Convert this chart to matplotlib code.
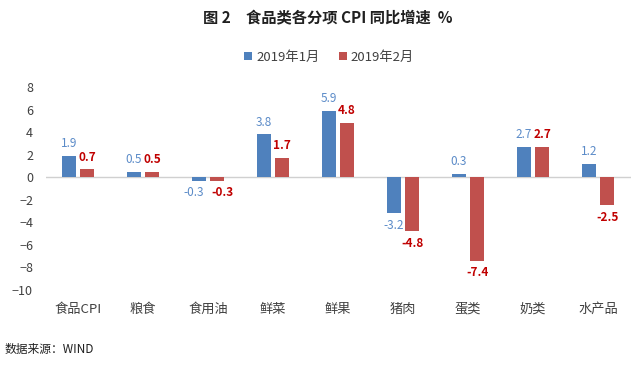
import matplotlib.pyplot as plt
import numpy as np

plt.rcParams['font.family'] = ['Noto Sans CJK SC', 'DejaVu Sans']

categories = ["食品CPI", "粮食", "食用油", "鲜菜", "鲜果", "猪肉", "蛋类", "奶类", "水产品"]
jan = [1.9, 0.5, -0.3, 3.8, 5.9, -3.2, 0.3, 2.7, 1.2]
feb = [0.7, 0.5, -0.3, 1.7, 4.8, -4.8, -7.4, 2.7, -2.5]
series_names = ["2019年1月", "2019年2月"]

blue = "#4F81BD"
red = "#C0504D"

fig = plt.figure(figsize=(6.33, 3.65), dpi=100)
ax = fig.add_axes([45.5 / 633, 1 - 290 / 365, 585 / 633, 203 / 365])

x = np.arange(len(categories))
w = 0.22
off = 0.14
ax.bar(x - off, jan, w, color=blue, label=series_names[0])
ax.bar(x + off, feb, w, color=red, label=series_names[1])

for xi, v1, v2 in zip(x, jan, feb):
    # push labels apart when both sit on the same side at the same height
    nudge = 0.08 if (v1 < 0 and v2 < 0 and abs(v1 - v2) < 1) else 0
    for v, sgn, col, fw in [(v1, -1, "#5B8BC8", "normal"), (v2, 1, "#C00000", "bold")]:
        va = "bottom" if v >= 0 else "top"
        dy = 0.5 if v >= 0 else -0.5
        ax.text(xi + sgn * (off + nudge), v + dy, f"{v:.1f}", ha="center", va=va,
                color=col, fontsize=8.5, fontweight=fw)

ax.set_xlim(-0.5, len(categories) - 0.5)
ax.set_ylim(-10, 8)
ax.set_yticks(range(-10, 9, 2))
ax.axhline(0, color="#D0D0D0", lw=1, zorder=0)
for s in ax.spines.values():
    s.set_visible(False)
ax.tick_params(axis="both", length=0, labelsize=9, colors="#404040")
ax.tick_params(axis="y", pad=9)
ax.tick_params(axis="x", pad=9)
ax.set_xticks(x)
ax.set_xticklabels(categories, fontsize=9.5)

fig.text(0.518, 0.95, "图 2　食品类各分项 CPI 同比增速  %", ha="center", va="center",
         fontsize=11, fontweight="bold", color="#202020")
ax.legend(loc="center", bbox_to_anchor=(0.52, 1 - 57 / 365), bbox_transform=fig.transFigure,
          ncol=2, frameon=False, fontsize=9.5, handlelength=0.6, handleheight=0.6,
          columnspacing=1.5, handletextpad=0.3, labelcolor="#404040")
fig.text(5 / 633, 1 - 349 / 365, "数据来源：WIND", ha="left", va="center", fontsize=8.5, color="#202020")

fig.savefig("out.png", dpi=100)
